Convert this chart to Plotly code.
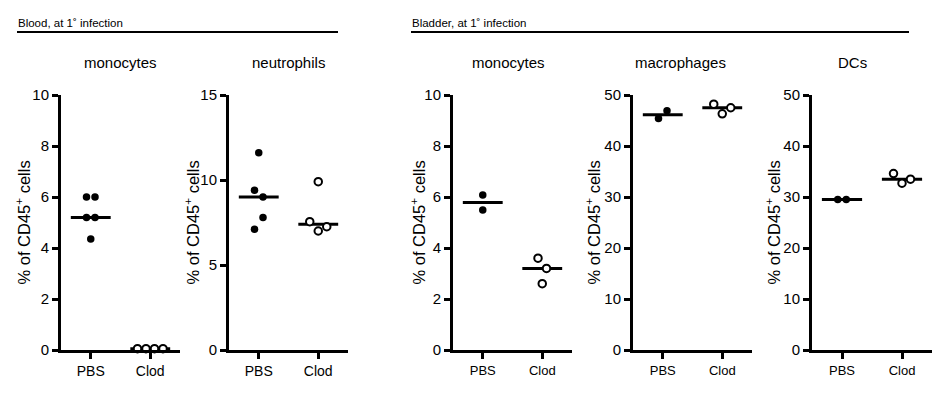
import plotly.graph_objects as go
import numpy as np

W, H = 945, 396

# ---------------- data ----------------
groups = ["PBS", "Clod"]
section_titles = ["Blood, at 1˚ infection", "Bladder, at 1˚ infection"]
panel_titles = ["monocytes", "neutrophils", "monocytes", "macrophages", "DCs"]
y_title = "% of CD45<sup>+</sup> cells"
y_max = [10, 15, 10, 50, 50]
y_dtick = [2, 5, 2, 10, 10]

blood_mono_pbs = [6.0, 6.0, 5.2, 5.2, 4.35]
blood_mono_clod = [0.05, 0.05, 0.05, 0.05]
blood_neut_pbs = [11.6, 9.4, 9.0, 7.1, 7.8]
blood_neut_clod = [9.9, 7.55, 7.0, 7.25]
bladder_mono_pbs = [6.08, 5.49]
bladder_mono_clod = [3.6, 3.2, 2.6]
bladder_mac_pbs = [45.4, 46.9]
bladder_mac_clod = [48.2, 46.3, 47.5]
bladder_dc_pbs = [29.5, 29.5]
bladder_dc_clod = [34.6, 32.7, 33.5]

panels = [
    (blood_mono_pbs, blood_mono_clod),
    (blood_neut_pbs, blood_neut_clod),
    (bladder_mono_pbs, bladder_mono_clod),
    (bladder_mac_pbs, bladder_mac_clod),
    (bladder_dc_pbs, bladder_dc_clod),
]

# ---------------- layout geometry (pixels) ----------------
x_dom_px = [(61, 180), (229, 348), (453, 572), (633, 752), (812, 932)]
y_top_px, y_bot_px = 95, 350
title_cx_px = [120, 288, 508, 680, 852]
ytitle_x_px = [23, 192, 418, 593, 773]
is_bladder = [False, False, True, True, True]

FONT = "Liberation Sans, Arial, sans-serif"


def px_x(p):
    return p / W


def px_y(p):
    return 1 - p / H


def swarm(vals, ppu_y, ppu_x, gap=8.5, thresh=14):
    order = sorted(range(len(vals)), key=lambda i: -vals[i])
    clusters = []
    for i in order:
        if clusters and abs(vals[clusters[-1][-1]] - vals[i]) * ppu_y < thresh:
            clusters[-1].append(i)
        else:
            clusters.append([i])
    offs = [0.0] * len(vals)
    for c in clusters:
        cs = sorted(c)
        n = len(cs)
        for k, i in enumerate(cs):
            offs[i] = (k - (n - 1) / 2) * gap / ppu_x
    return offs


fig = go.Figure()
annotations = []
shapes = []
layout_axes = {}

for p, (pbs, clod) in enumerate(panels):
    idx = p + 1
    xa = "x" if idx == 1 else f"x{idx}"
    ya = "y" if idx == 1 else f"y{idx}"
    x0, x1 = x_dom_px[p]
    ppu_x = (x1 - x0) / 2.0
    ppu_y = (y_bot_px - y_top_px) / y_max[p]
    for g, vals in enumerate([pbs, clod]):
        med = float(np.median(vals))
        fig.add_trace(go.Scatter(
            x=[g - 0.335, g + 0.335], y=[med, med], mode="lines",
            line=dict(color="black", width=3), xaxis=xa, yaxis=ya,
            showlegend=False, hoverinfo="skip", cliponaxis=False))
        offs = swarm(vals, ppu_y, ppu_x)
        xs = [g + o for o in offs]
        if g == 0:
            marker = dict(color="black", size=7.5, line=dict(width=0))
        else:
            marker = dict(color="white", size=7.5, line=dict(color="black", width=2))
        fig.add_trace(go.Scatter(
            x=xs, y=vals, mode="markers", marker=marker,
            xaxis=xa, yaxis=ya, showlegend=False, cliponaxis=False))

    xt_fs = 13 if is_bladder[p] else 14
    yt_fs = 15
    layout_axes["xaxis" + ("" if idx == 1 else str(idx))] = dict(
        domain=[px_x(x0), px_x(x1)], range=[-0.5, 1.5], anchor=ya,
        tickmode="array", tickvals=[0, 1], ticktext=groups,
        showline=True, linewidth=3, linecolor="black", ticks="outside",
        ticklen=6, tickwidth=3, tickcolor="black", showgrid=False,
        zeroline=False, tickfont=dict(family=FONT, size=xt_fs, color="black"),
        fixedrange=True, automargin=False)
    layout_axes["yaxis" + ("" if idx == 1 else str(idx))] = dict(
        domain=[px_y(y_bot_px), px_y(y_top_px)], range=[0, y_max[p]],
        anchor=xa, dtick=y_dtick[p], tick0=0,
        showline=True, linewidth=3, linecolor="black", ticks="outside",
        ticklen=6, tickwidth=3, tickcolor="black", showgrid=False,
        zeroline=False, tickfont=dict(family=FONT, size=yt_fs, color="black"),
        fixedrange=True, automargin=False)

    annotations.append(dict(
        text=panel_titles[p], xref="paper", yref="paper",
        x=px_x(title_cx_px[p]), y=px_y(63), xanchor="center", yanchor="middle",
        showarrow=False, font=dict(family=FONT, size=15, color="black")))
    annotations.append(dict(
        text=y_title, xref="paper", yref="paper", textangle=-90,
        x=px_x(ytitle_x_px[p]), y=px_y((y_top_px + y_bot_px) / 2),
        xanchor="center", yanchor="middle", showarrow=False,
        font=dict(family=FONT, size=16.5, color="black")))

# section headers
for (tx, lx0, lx1), txt in zip([(17, 17, 338), (411, 411, 909)], section_titles):
    annotations.append(dict(
        text=txt, xref="paper", yref="paper", x=px_x(tx - 1), y=px_y(23),
        xanchor="left", yanchor="middle", showarrow=False,
        font=dict(family=FONT, size=11.5, color="black")))
    shapes.append(dict(type="line", xref="paper", yref="paper",
                       x0=px_x(lx0), x1=px_x(lx1), y0=px_y(32), y1=px_y(32),
                       line=dict(color="black", width=2)))

fig.update_layout(
    width=W, height=H, margin=dict(l=0, r=0, t=0, b=0, pad=0, autoexpand=False),
    paper_bgcolor="white", plot_bgcolor="white",
    annotations=annotations, shapes=shapes, **layout_axes)

fig.write_html("out.html", config={"displayModeBar": False},
               post_script="document.body.style.margin='0';")
